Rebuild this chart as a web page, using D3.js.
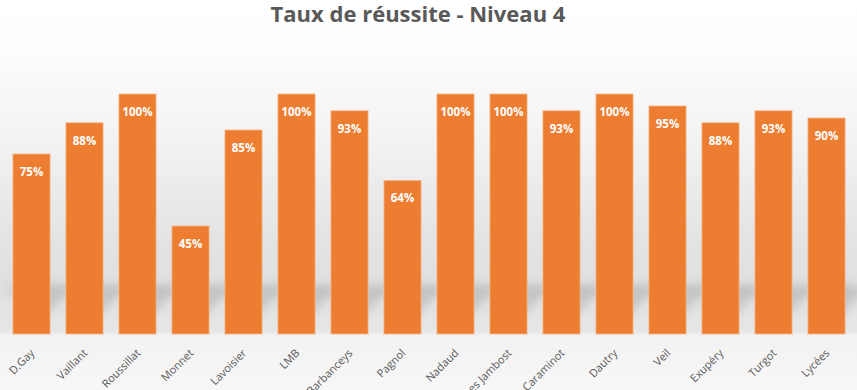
<!DOCTYPE html>
<html>
<head>
<meta charset="utf-8">
<script src="https://cdn.jsdelivr.net/npm/d3@7"></script>
<style>
	body { margin: 0; background: #fff; }
	svg { display: block; font-family: "Open Sans", "Noto Sans", sans-serif; }
</style>
</head>
<body>
<figure id="chart" style="margin:0"></figure>
<script>
// data
var lycees = ["D.Gay", "Vaillant", "Roussillat", "Monnet", "Lavoisier", "LMB", "Barbanceys", "Pagnol",
	"Nadaud", "Les Jambost", "Caraminot", "Dautry", "Veil", "Exupéry", "Turgot", "Lycées"];
var taux = [0.75, 0.88, 1.00, 0.45, 0.85, 1.00, 0.93, 0.64, 1.00, 1.00, 0.93, 1.00, 0.95, 0.88, 0.93, 0.90];
var titre = "Taux de réussite - Niveau 4";

var data = lycees.map((d, i) => ({ nom: d, taux: taux[i] }));

var dimensions = {
	width: 857,
	height: 390,
	margin: { top: 94, right: 4, bottom: 56, left: 5 }
};
dimensions.boundedWidth = dimensions.width - dimensions.margin.left - dimensions.margin.right;
dimensions.boundedHeight = dimensions.height - dimensions.margin.top - dimensions.margin.bottom;

var svg = d3.select("figure#chart")
	.append("svg")
	.attr("width", dimensions.width)
	.attr("height", dimensions.height);

var defs = svg.append("defs");

// background: white at top fading into grey "floor"
var bg = defs.append("linearGradient")
	.attr("id", "bg")
	.attr("x1", 0).attr("y1", 0).attr("x2", 0).attr("y2", 1);
[[0, "#ffffff"], [0.12, "#fdfdfd"], [0.35, "#f3f3f3"], [0.62, "#e3e3e3"], [0.72, "#e0e0e0"],
	[0.85, "#e6e6e6"], [0.86, "#f2f2f2"], [1, "#f7f7f7"]].forEach(s => {
	bg.append("stop").attr("offset", s[0]).attr("stop-color", s[1]);
});

defs.append("filter")
	.attr("id", "flou")
	.attr("x", "-50%").attr("y", "-50%").attr("width", "200%").attr("height", "200%")
	.append("feGaussianBlur")
	.attr("stdDeviation", 4);

svg.append("rect")
	.attr("width", dimensions.width)
	.attr("height", dimensions.height)
	.attr("fill", "url(#bg)");

var chart = svg.append("g")
	.attr("transform", `translate(${dimensions.margin.left},${dimensions.margin.top})`);

var xScale = d3.scaleBand()
	.domain(data.map(d => d.nom))
	.range([0, dimensions.boundedWidth])
	.paddingInner(0.3)
	.paddingOuter(0.15);

var yScale = d3.scaleLinear()
	.domain([0, 1])
	.range([dimensions.boundedHeight, 0]);

// soft darker band + diagonal shadows cast by the bars
chart.append("rect")
	.attr("x", 0)
	.attr("y", yScale(0.21))
	.attr("width", dimensions.boundedWidth)
	.attr("height", 12)
	.attr("fill", "#c8c8c8")
	.attr("opacity", 0.45)
	.attr("filter", "url(#flou)");

chart.selectAll(".ombre")
	.data(data)
	.enter()
	.append("path")
	.attr("class", "ombre")
	.attr("d", d => {
		var x0 = xScale(d.nom), x1 = x0 + xScale.bandwidth();
		var yb = yScale(0.09), yt = yScale(0.2);
		return `M${x0},${yb}L${x1},${yb}L${x1 + 24},${yt}L${x0 + 24},${yt}Z`;
	})
	.attr("fill", "#a8a8a8")
	.attr("opacity", 0.45)
	.attr("filter", "url(#flou)");

chart.selectAll(".barre")
	.data(data)
	.enter()
	.append("rect")
	.attr("class", "barre")
	.attr("x", d => xScale(d.nom))
	.attr("y", d => yScale(d.taux))
	.attr("width", xScale.bandwidth())
	.attr("height", d => yScale(0) - yScale(d.taux))
	.attr("fill", "#ed7d31")
	.attr("stroke", "#f6b68b")
	.attr("stroke-width", 0.8);

chart.selectAll(".valeur")
	.data(data)
	.enter()
	.append("text")
	.attr("class", "valeur")
	.attr("x", d => xScale(d.nom) + xScale.bandwidth() / 2)
	.attr("y", d => yScale(d.taux) + 22)
	.attr("text-anchor", "middle")
	.attr("font-size", 11.5)
	.attr("font-weight", "bold")
	.attr("fill", "#ffffff")
	.text(d => d3.format(".0%")(d.taux));

// category axis, labels turned 45 degrees
var xAxis = chart.append("g")
	.attr("transform", `translate(0, ${dimensions.boundedHeight})`)
	.call(d3.axisBottom(xScale).tickSize(0).tickPadding(0))
	.call(g => g.select(".domain").remove());

xAxis.selectAll("text")
	.attr("font-family", "\"Open Sans\", \"Noto Sans\", sans-serif")
	.attr("font-size", 11)
	.attr("fill", "#595959")
	.attr("text-anchor", "end")
	.attr("dy", "0.35em")
	.attr("transform", "translate(1, 17) rotate(-45)");

svg.append("text")
	.attr("x", 418)
	.attr("y", 22)
	.attr("text-anchor", "middle")
	.attr("font-size", 22)
	.attr("font-weight", "bold")
	.attr("fill", "#595959")
	.text(titre);
</script>
</body>
</html>
